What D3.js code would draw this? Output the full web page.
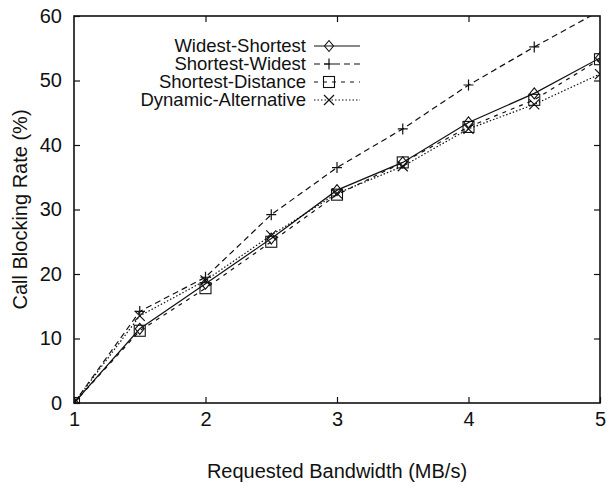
<!DOCTYPE html>
<html>
<head>
<meta charset="utf-8">
<script src="https://cdn.jsdelivr.net/npm/d3@7"></script>
<style>
  body { margin: 0; background: #fff; }
  text { font-family: "Liberation Sans", Arial, sans-serif; fill: #111; }
</style>
</head>
<body>
<div id="chart"></div>
<script>
// bandwidth values on the x axis
var bandwidth = [1, 1.5, 2, 2.5, 3, 3.5, 4, 4.5, 5];

// blocking rate (%) per algorithm
var widestShortest = [0, 11.5, 18.5, 25.5, 33.0, 37.3, 43.5, 48.0, 53.5];
var shortestWidest = [0, 14.2, 19.5, 29.2, 36.5, 42.5, 49.3, 55.2, 60.8];
var shortestDistance = [0, 11.2, 17.8, 25.0, 32.3, 37.3, 42.8, 47.0, 53.3];
var dynamicAlternative = [0, 13.5, 19.0, 26.0, 32.5, 36.7, 42.5, 46.3, 51.0];

var seriesNames = ["Widest-Shortest", "Shortest-Widest", "Shortest-Distance", "Dynamic-Alternative"];
var xTicks = [1, 2, 3, 4, 5];
var yTicks = [0, 10, 20, 30, 40, 50, 60];

var width = 610, height = 488;
var plotLeft = 74, plotRight = 600, plotTop = 16, plotBottom = 403;

var series = [
    { name: seriesNames[0], values: widestShortest, dash: null, marker: "diamond" },
    { name: seriesNames[1], values: shortestWidest, dash: "6,4", marker: "plus" },
    { name: seriesNames[2], values: shortestDistance, dash: "4,5", marker: "square" },
    { name: seriesNames[3], values: dynamicAlternative, dash: "1.5,2", marker: "cross" }
];

var svg = d3.select("#chart").append("svg")
    .attr("width", width)
    .attr("height", height);

var xScale = d3.scaleLinear().domain([1, 5]).range([plotLeft, plotRight]);
var yScale = d3.scaleLinear().domain([0, 60]).range([plotBottom, plotTop]);

// clip for lines going off the top
svg.append("defs").append("clipPath").attr("id", "plot-clip")
    .append("rect")
    .attr("x", plotLeft).attr("y", plotTop)
    .attr("width", plotRight - plotLeft).attr("height", plotBottom - plotTop);

// frame
svg.append("rect")
    .attr("x", plotLeft).attr("y", plotTop)
    .attr("width", plotRight - plotLeft).attr("height", plotBottom - plotTop)
    .attr("fill", "none")
    .attr("stroke", "#111")
    .attr("stroke-width", 1.6);

// axes with inward ticks, mirrored on top/right
svg.append("g")
    .attr("transform", "translate(0," + plotBottom + ")")
    .call(d3.axisBottom(xScale).tickValues(xTicks).tickSize(-6).tickPadding(9).tickFormat(d3.format("d")))
    .call(g => g.select(".domain").remove())
    .attr("font-size", 20);

svg.append("g")
    .attr("transform", "translate(0," + plotTop + ")")
    .call(d3.axisTop(xScale).tickValues(xTicks.slice(1, 4)).tickSize(-6).tickFormat(""))
    .call(g => g.select(".domain").remove());

svg.append("g")
    .attr("transform", "translate(" + plotLeft + ",0)")
    .call(d3.axisLeft(yScale).tickValues(yTicks).tickSize(-6).tickPadding(12).tickFormat(d3.format("d")))
    .call(g => g.select(".domain").remove())
    .attr("font-size", 20);

svg.append("g")
    .attr("transform", "translate(" + plotRight + ",0)")
    .call(d3.axisRight(yScale).tickValues(yTicks.slice(1, 6)).tickSize(-6).tickFormat(""))
    .call(g => g.select(".domain").remove());

svg.selectAll(".tick line").attr("stroke", "#111").attr("stroke-width", 1.2);
svg.selectAll(".tick text").attr("fill", "#111").attr("font-family", "Liberation Sans, Arial, sans-serif");

// axis titles
svg.append("text")
    .text("Requested Bandwidth (MB/s)")
    .attr("x", (plotLeft + plotRight) / 2)
    .attr("y", 478)
    .attr("text-anchor", "middle")
    .attr("font-size", 20);

svg.append("text")
    .text("Call Blocking Rate (%)")
    .attr("transform", "translate(27," + ((plotTop + plotBottom) / 2) + ") rotate(-90)")
    .attr("text-anchor", "middle")
    .attr("font-size", 20);

function drawMarker(g, type, cx, cy) {
    if (type === "diamond") {
        g.append("path")
            .attr("d", "M" + cx + "," + (cy - 5.5) + "L" + (cx + 4.5) + "," + cy + "L" + cx + "," + (cy + 5.5) + "L" + (cx - 4.5) + "," + cy + "Z")
            .attr("fill", "none").attr("stroke", "#111").attr("stroke-width", 1.1);
    } else if (type === "plus") {
        g.append("path")
            .attr("d", "M" + (cx - 5) + "," + cy + "H" + (cx + 5) + "M" + cx + "," + (cy - 5.5) + "V" + (cy + 5.5))
            .attr("stroke", "#111").attr("stroke-width", 1.2);
    } else if (type === "square") {
        g.append("rect")
            .attr("x", cx - 5.5).attr("y", cy - 5.5).attr("width", 11).attr("height", 11)
            .attr("fill", "none").attr("stroke", "#111").attr("stroke-width", 1.1);
    } else {
        g.append("path")
            .attr("d", "M" + (cx - 5) + "," + (cy - 5) + "L" + (cx + 5) + "," + (cy + 5) + "M" + (cx + 5) + "," + (cy - 5) + "L" + (cx - 5) + "," + (cy + 5))
            .attr("stroke", "#111").attr("stroke-width", 1.2);
    }
}

var line = d3.line()
    .x(d => xScale(d[0]))
    .y(d => yScale(d[1]));

var plot = svg.append("g").attr("clip-path", "url(#plot-clip)");

series.forEach(function (s) {
    var pts = bandwidth.map((b, i) => [b, s.values[i]]);
    plot.append("path")
        .attr("d", line(pts))
        .attr("fill", "none")
        .attr("stroke", "#111")
        .attr("stroke-width", 1.2)
        .attr("stroke-dasharray", s.dash);
    pts.forEach(function (p) {
        if (p[1] <= 60) drawMarker(plot, s.marker, xScale(p[0]), yScale(p[1]));
    });
});

// legend
var legY = [46, 64, 82, 100];
series.forEach(function (s, i) {
    svg.append("text")
        .text(s.name)
        .attr("x", 306)
        .attr("y", legY[i])
        .attr("dy", "0.35em")
        .attr("text-anchor", "end")
        .attr("font-size", 18.5);
    svg.append("line")
        .attr("x1", 314).attr("x2", 360)
        .attr("y1", legY[i]).attr("y2", legY[i])
        .attr("stroke", "#111")
        .attr("stroke-width", 1.2)
        .attr("stroke-dasharray", s.dash);
    drawMarker(svg, s.marker, 329, legY[i]);
});
</script>
</body>
</html>
